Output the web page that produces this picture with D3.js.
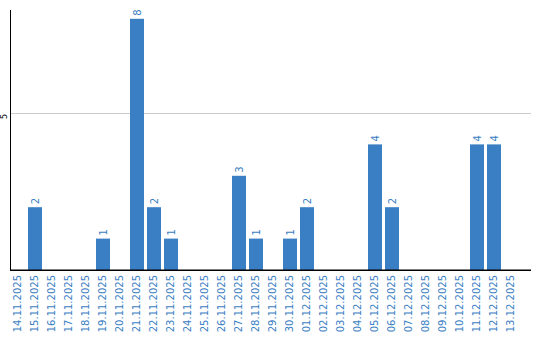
<!DOCTYPE html>
<html><head><meta charset="utf-8">
<script src="https://cdn.jsdelivr.net/npm/d3@7/dist/d3.min.js"></script>
<style>body{margin:0;background:#fff;}svg{display:block;}</style>
</head><body>
<svg id="c" width="540" height="340"></svg>
<script>
const categories = ["14.11.2025","15.11.2025","16.11.2025","17.11.2025","18.11.2025","19.11.2025","20.11.2025","21.11.2025","22.11.2025","23.11.2025","24.11.2025","25.11.2025","26.11.2025","27.11.2025","28.11.2025","29.11.2025","30.11.2025","01.12.2025","02.12.2025","03.12.2025","04.12.2025","05.12.2025","06.12.2025","07.12.2025","08.12.2025","09.12.2025","10.12.2025","11.12.2025","12.12.2025","13.12.2025"];
const values = [0,2,0,0,0,1,0,8,2,1,0,0,0,3,1,0,1,2,0,0,0,4,2,0,0,0,0,4,4,0];
const yTicks = [5];

const svg = d3.select("#c");
const blue = "#3a7ec3";
const font = "DejaVu Sans, Verdana, sans-serif";

const x = d3.scaleBand().domain(categories).range([9.5, 519.5]).paddingInner(3/17).paddingOuter(3/34);
const y = d3.scaleLinear().domain([0, d3.max(values) * 1.035]).range([270, 10]);

// grid
svg.append("g").selectAll("line").data(yTicks).join("line")
  .attr("x1", 11).attr("x2", 531)
  .attr("y1", d => Math.round(y(d)) + 0.5).attr("y2", d => Math.round(y(d)) + 0.5)
  .attr("stroke", "#cccccc").attr("stroke-width", 1);

// y tick labels
svg.append("g").selectAll("text").data(yTicks).join("text")
  .attr("transform", d => `translate(7,${y(d) + 3.5}) rotate(-90)`)
  .attr("text-anchor", "middle")
  .attr("font-family", font).attr("font-size", 8).attr("fill", "#000")
  .text(d => d);

// bars
svg.append("g").selectAll("rect").data(values).join("rect")
  .attr("x", (d, i) => x(categories[i]))
  .attr("width", x.bandwidth())
  .attr("y", d => y(d))
  .attr("height", d => y(0) - y(d))
  .attr("fill", blue);

// value labels
svg.append("g").selectAll("text").data(values.map((v, i) => ({v, c: categories[i]})).filter(d => d.v > 0)).join("text")
  .attr("transform", d => `translate(${x(d.c) + x.bandwidth()/2},${y(d.v) - 3}) rotate(-90)`)
  .attr("text-anchor", "start").attr("dy", "0.35em")
  .attr("font-family", font).attr("font-size", 10).attr("fill", blue)
  .text(d => d.v);

// x axis labels
const xAxis = d3.axisBottom(x).tickSize(0).tickPadding(0);
const gx = svg.append("g").attr("transform", "translate(0,270)").call(xAxis);
gx.select(".domain").remove();
gx.selectAll(".tick text")
  .attr("transform", "translate(0,5) rotate(-90)")
  .attr("text-anchor", "end").attr("x", 0).attr("y", 0).attr("dy", "0.3em")
  .attr("font-family", font).attr("font-size", 10).attr("fill", blue);

// axis lines
svg.append("line").attr("x1", 10.5).attr("x2", 10.5).attr("y1", y.range()[1]).attr("y2", 271)
  .attr("stroke", "#000").attr("stroke-width", 1);
svg.append("line").attr("x1", 10).attr("x2", 531).attr("y1", 270.25).attr("y2", 270.25)
  .attr("stroke", "#000").attr("stroke-width", 1.5);
</script>
</body></html>
